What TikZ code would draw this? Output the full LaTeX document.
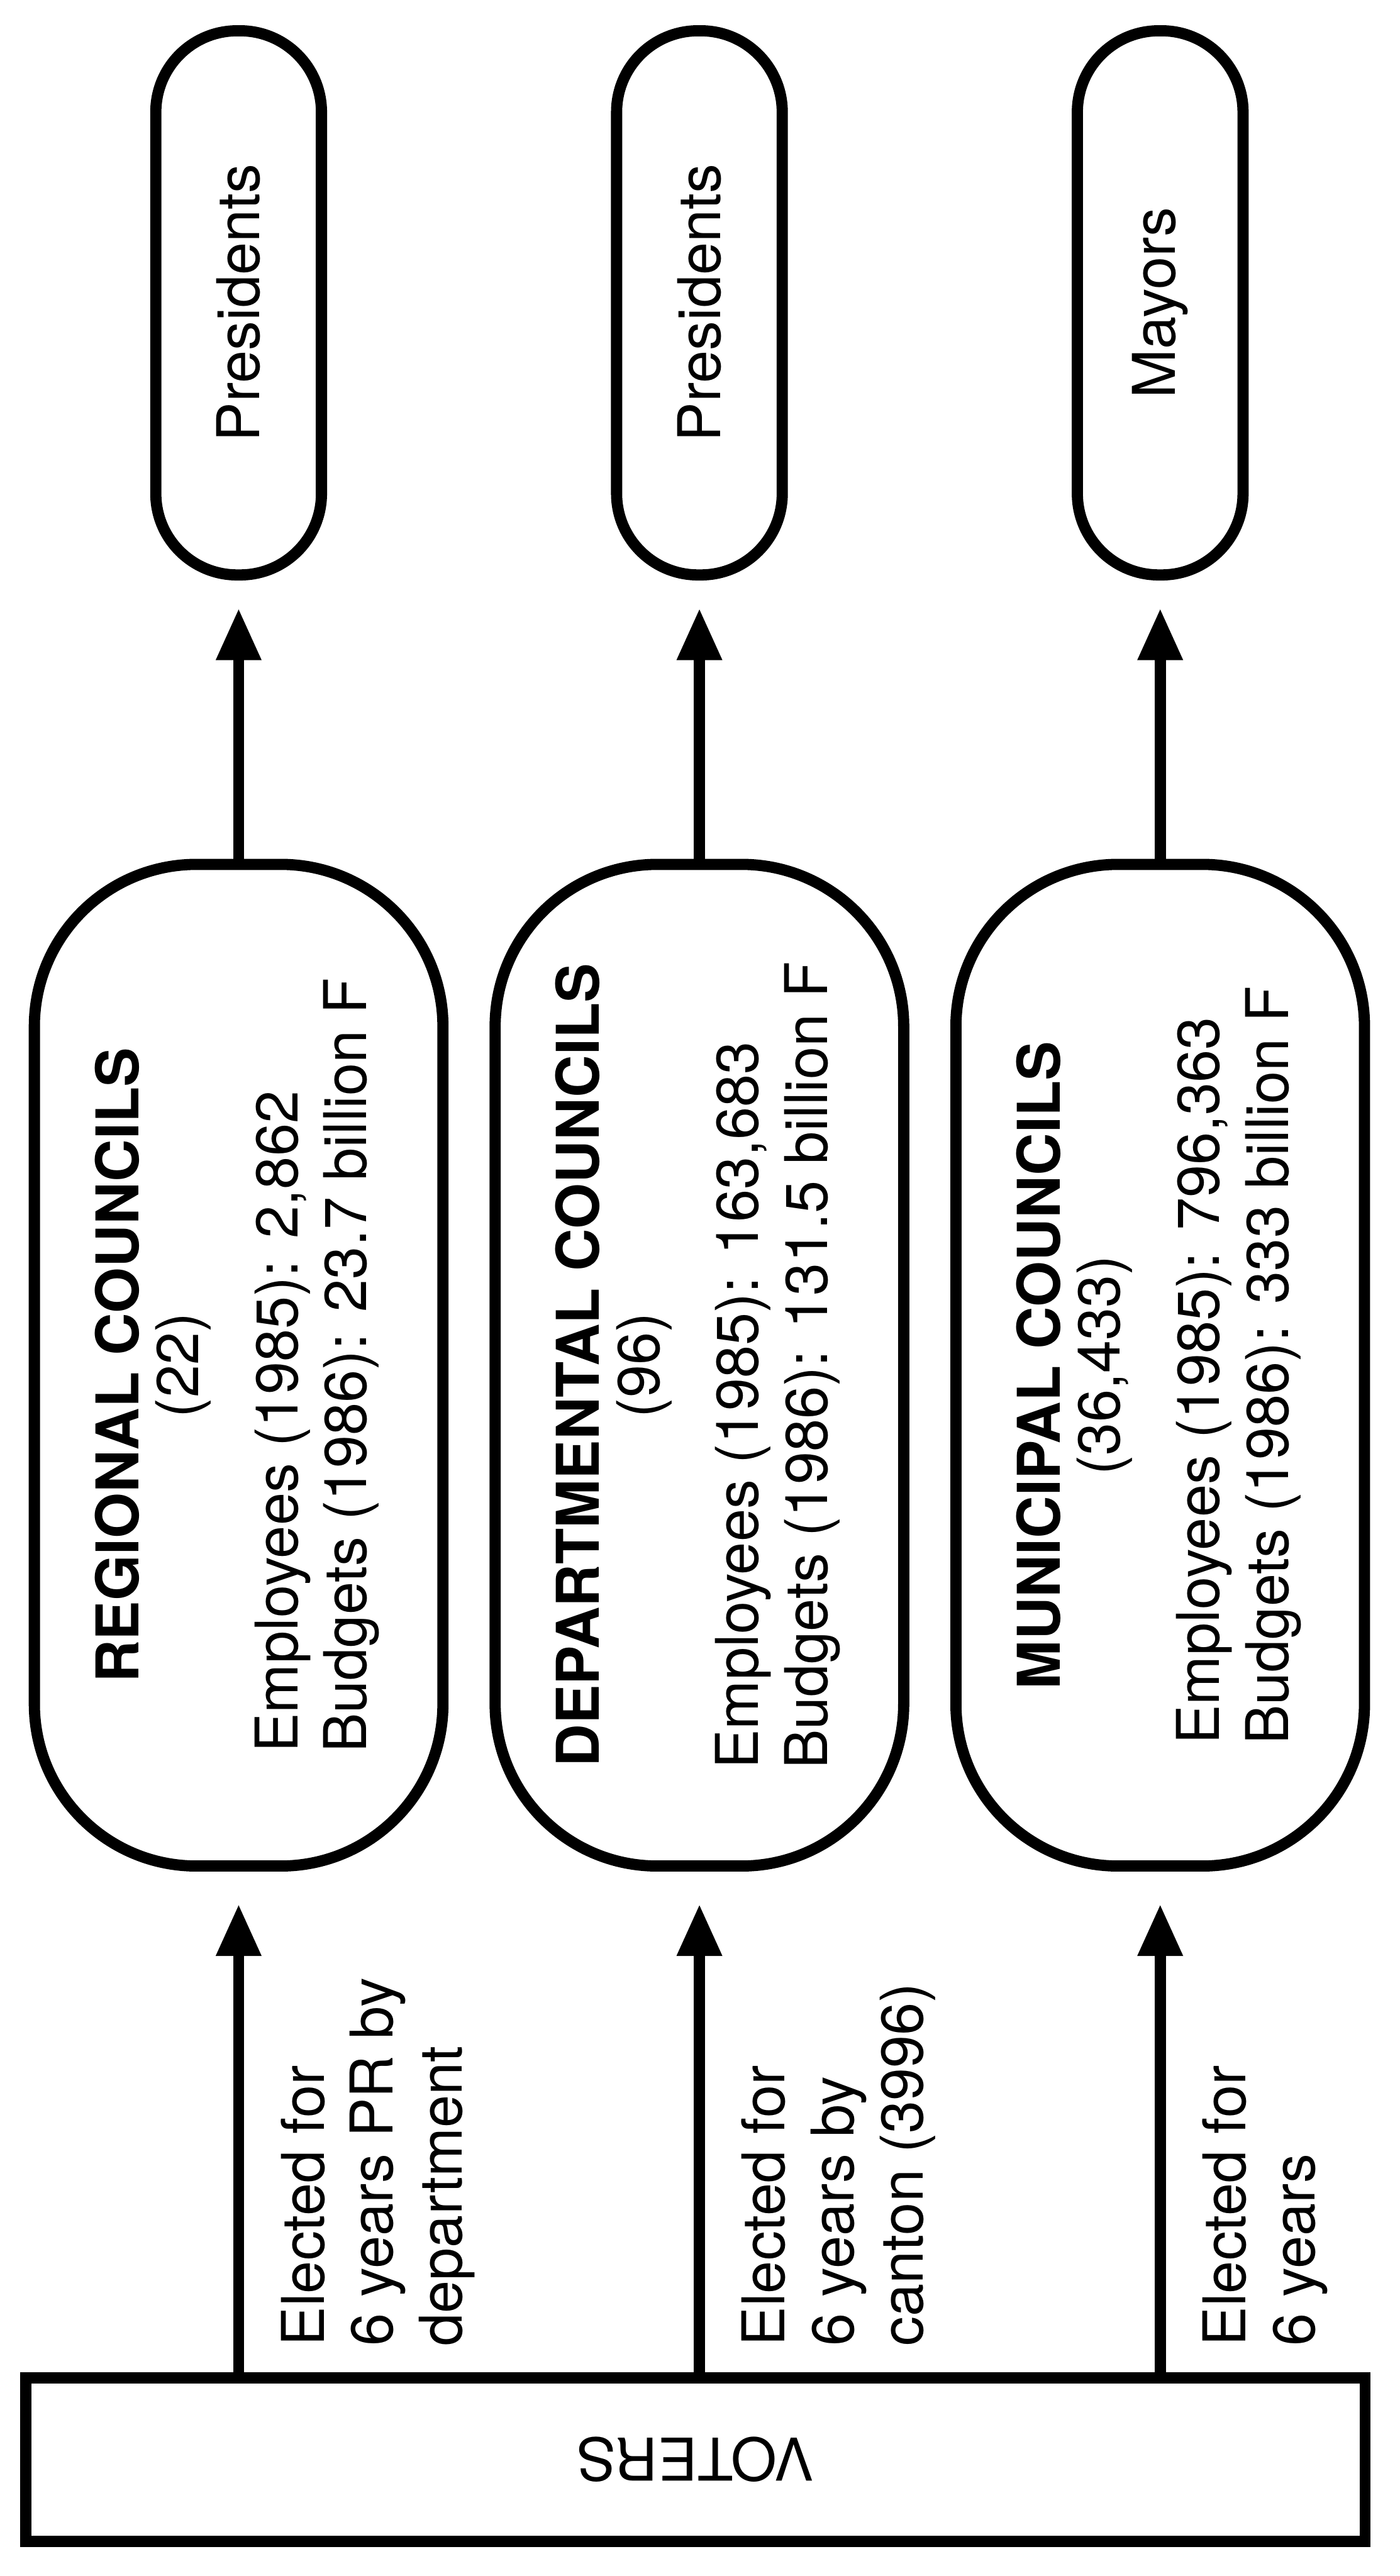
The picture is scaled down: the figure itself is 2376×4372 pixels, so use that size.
\documentclass[tikz,border=0pt]{standalone}
\usepackage{fontspec}
\setmainfont{TeX Gyre Heros}
\usetikzlibrary{arrows.meta}

% Body of a council box: bold title and count centred, figures left-aligned
\newcommand\councilbody[4]{%
  \rotatebox{90}{\begin{tabular}{@{}l@{}}
    \multicolumn{1}{@{}c@{}}{\bfseries #1}\\\noalign{\vskip-4.3pt}
    \multicolumn{1}{@{}c@{}}{#2}\\\noalign{\vskip14.5pt}
    #3\\
    #4
  \end{tabular}}}

% Label set beside an election arrow, reading upwards
\newcommand\arrowlabel[1]{%
  \rotatebox{90}{\begin{tabular}{@{}l@{}}#1\end{tabular}}}

\begin{document}
\begin{tikzpicture}[x=0.01cm, y=-0.01cm,
  every node/.style={inner sep=0pt, font=\fontsize{28.45pt}{33.3pt}\selectfont},
  council/.style={draw, line width=5.4pt, rounded corners=2.75cm,
                  minimum width=6.93cm, minimum height=16.99cm},
  officer/.style={draw, line width=5.4pt, rounded corners=1.38cm,
                  minimum width=2.81cm, minimum height=9.23cm},
  electorate/.style={draw, line width=5.4pt,
                  minimum width=22.72cm, minimum height=2.77cm},
  conn/.style={line width=5.4pt, -{Triangle[length=0.88cm, width=0.72cm]}},
  note/.style={anchor=south west}
]
\useasboundingbox (0,0) rectangle (2376,4372);
\fill[white] (0,0) rectangle (2376,4372);

% Office holders
\node[officer] (presR)  at (405,514)  {\rotatebox{90}{Presidents}};
\node[officer] (presD)  at (1187,514) {\rotatebox{90}{Presidents}};
\node[officer] (mayors) at (1969,514) {\rotatebox{90}{Mayors}};

% Councils
\node[council] (reg) at (405,2317)
  {\councilbody{REGIONAL COUNCILS}{(22)}{Employees (1985): 2,862}{Budgets (1986): 23.7 billion F}};
\node[council] (dep) at (1187,2317)
  {\councilbody{DEPARTMENTAL COUNCILS}{(96)}{Employees (1985): 163,683}{Budgets (1986): 131.5 billion F}};
\node[council] (mun) at (1969,2317)
  {\councilbody{MUNICIPAL COUNCILS}{(36,433)}{Employees (1985): 796,363}{Budgets (1986): 333 billion F}};

% Electorate
\node[electorate] (voters) at (1180,4174.5) {\rotatebox{180}{VOTERS}\hspace{17pt}};

% Councils elect their heads
\draw[conn, shorten >=0.47cm] (reg.north) -- (presR.south);
\draw[conn, shorten >=0.47cm] (dep.north) -- (presD.south);
\draw[conn, shorten >=0.47cm] (mun.north) -- (mayors.south);

% Voters elect the councils
\coordinate (baseR) at (voters.north -| reg.south);
\coordinate (baseD) at (voters.north -| dep.south);
\coordinate (baseM) at (voters.north -| mun.south);
\draw[conn, shorten >=0.55cm] (baseR) -- (reg.south);
\draw[conn, shorten >=0.55cm] (baseD) -- (dep.south);
\draw[conn, shorten >=0.55cm] (baseM) -- (mun.south);

\node[note] (lblR) at ([xshift=0.62cm, yshift=0.44cm]baseR)
  {\arrowlabel{Elected for\\6 years PR by\\department}};
\node[note] (lblD) at ([xshift=0.62cm, yshift=0.44cm]baseD)
  {\arrowlabel{Elected for\\6 years by\\canton (3996)}};
\node[note] (lblM) at ([xshift=0.62cm, yshift=0.44cm]baseM)
  {\arrowlabel{Elected for\\6 years}};
\end{tikzpicture}
\end{document}
